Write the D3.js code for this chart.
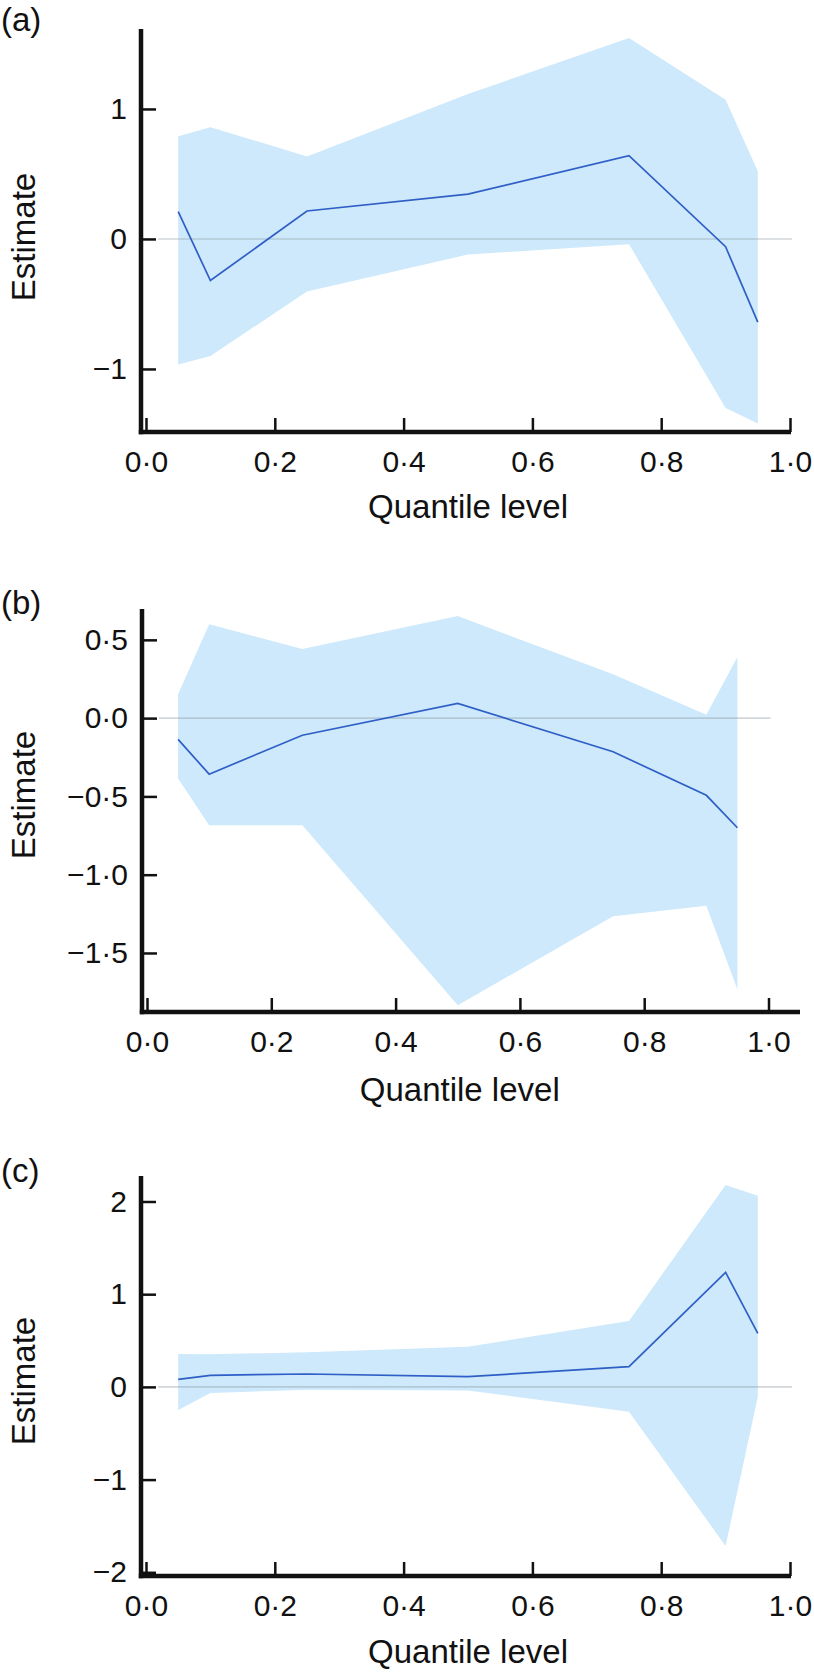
<!DOCTYPE html>
<html>
<head>
<meta charset="utf-8">
<script src="https://cdn.jsdelivr.net/npm/d3@7"></script>
<style>
  html, body { margin: 0; padding: 0; background: #fff; }
  svg { display: block; }
  text { font-family: "Liberation Sans", Arial, Helvetica, sans-serif; fill: #111; }
</style>
</head>
<body>
<svg id="chart" width="814" height="1675"></svg>
<script>
// ---- data ----
const quantiles = [0.05, 0.1, 0.25, 0.5, 0.75, 0.9, 0.95];
const xTicks = [0, 0.2, 0.4, 0.6, 0.8, 1.0];
const panelLabels = ["(a)", "(b)", "(c)"];

const estA   = [0.21, -0.32, 0.215, 0.345, 0.64, -0.06, -0.64];
const upperA = [0.79, 0.86, 0.635, 1.115, 1.545, 1.07, 0.52];
const lowerA = [-0.965, -0.90, -0.405, -0.12, -0.04, -1.30, -1.42];
const yTicksA = [-1, 0, 1];

const estB   = [-0.136, -0.358, -0.109, 0.094, -0.215, -0.493, -0.70];
const upperB = [0.153, 0.599, 0.441, 0.652, 0.28, 0.022, 0.39];
const lowerB = [-0.385, -0.684, -0.684, -1.834, -1.265, -1.199, -1.734];
const yTicksB = [-1.5, -1.0, -0.5, 0, 0.5];

const estC   = [0.082, 0.125, 0.139, 0.11, 0.218, 1.236, 0.578];
const upperC = [0.355, 0.352, 0.373, 0.434, 0.71, 2.178, 2.063];
const lowerC = [-0.249, -0.065, -0.03, -0.04, -0.267, -1.716, -0.105];
const yTicksC = [-2, -1, 0, 1, 2];

const yDomains = [[-1.485, 1.615], [-1.877, 0.697], [-2.04, 2.275]];
const yDecimals = [0, 1, 0];

// ---- layout ----
const panels = [
  {est: estA, up: upperA, lo: lowerA, yt: yTicksA, xr: [146, 790], yr: [432, 29], xEnd: 791, letterY: 31, titleCy: 237, titleDy: 86},
  {est: estB, up: upperB, lo: lowerB, yt: yTicksB, xr: [147, 768.5], yr: [1012, 609], xEnd: 800, letterY: 614, titleCy: 795, titleDy: 89},
  {est: estC, up: upperC, lo: lowerC, yt: yTicksC, xr: [146, 790], yr: [1576, 1176], xEnd: 791, letterY: 1182, titleCy: 1381, titleDy: 87}
];

const svg = d3.select("#chart");
const fmtDot = (v, dec) => {
  const s = Math.abs(v).toFixed(dec).replace(".", "\u00B7");
  return (v < 0 ? "\u2212" : "") + s;
};

panels.forEach((p, i) => {
  const x = d3.scaleLinear().domain([0, 1]).range(p.xr);
  const y = d3.scaleLinear().domain(yDomains[i]).range(p.yr);
  const g = svg.append("g");
  const rows = quantiles.map((q, k) => ({q, e: p.est[k], u: p.up[k], l: p.lo[k]}));

  // band
  g.append("path")
    .datum(rows)
    .attr("d", d3.area().x(d => x(d.q)).y0(d => y(d.l)).y1(d => y(d.u)))
    .attr("fill", "#cde9fb");

  // zero line
  g.append("line")
    .attr("x1", p.xr[0] + 12).attr("x2", x(1) + 2)
    .attr("y1", y(0)).attr("y2", y(0))
    .attr("stroke", "rgba(140,150,155,0.38)")
    .attr("stroke-width", 1.6);

  // estimate line
  g.append("path")
    .datum(rows)
    .attr("d", d3.line().x(d => x(d.q)).y(d => y(d.e)))
    .attr("fill", "none")
    .attr("stroke", "#2f5fc6")
    .attr("stroke-width", 1.7)
    .attr("stroke-linejoin", "miter");

  // y axis
  const yAxis = d3.axisLeft(y).tickValues(p.yt)
    .tickFormat(v => fmtDot(v, yDecimals[i]))
    .tickSizeInner(-15).tickSizeOuter(0).tickPadding(14);
  const ga = g.append("g").attr("transform", `translate(${p.xr[0] - 5},0)`).call(yAxis);
  ga.select(".domain").remove();
  ga.selectAll(".tick line").attr("stroke", "#111").attr("stroke-width", 2.5);
  ga.selectAll(".tick text").attr("font-size", 30).attr("fill", "#111")
    .attr("font-family", "Liberation Sans, Arial, sans-serif");

  // x axis
  const xAxis = d3.axisBottom(x).tickValues(xTicks)
    .tickFormat(v => fmtDot(v, 1))
    .tickSizeInner(-14).tickSizeOuter(0).tickPadding(19);
  const gx = g.append("g").attr("transform", `translate(0,${p.yr[0]})`).call(xAxis);
  gx.select(".domain").remove();
  gx.selectAll(".tick line").attr("stroke", "#111").attr("stroke-width", 2.5);
  gx.selectAll(".tick text").attr("font-size", 30).attr("fill", "#111")
    .attr("font-family", "Liberation Sans, Arial, sans-serif");

  // axis lines
  g.append("line")
    .attr("x1", p.xr[0] - 5).attr("x2", p.xr[0] - 5)
    .attr("y1", p.yr[1]).attr("y2", p.yr[0] + 2.2)
    .attr("stroke", "#111").attr("stroke-width", 4.5);
  g.append("line")
    .attr("x1", p.xr[0] - 7.2).attr("x2", p.xEnd)
    .attr("y1", p.yr[0]).attr("y2", p.yr[0])
    .attr("stroke", "#111").attr("stroke-width", 4.5);

  // titles
  g.append("text")
    .attr("x", (p.xr[0] + p.xr[1]) / 2 + (i === 1 ? 2 : 0))
    .attr("y", p.yr[0] + p.titleDy)
    .attr("text-anchor", "middle")
    .attr("font-size", 33)
    .text("Quantile level");
  g.append("text")
    .attr("transform", `translate(35,${p.titleCy}) rotate(-90)`)
    .attr("text-anchor", "middle")
    .attr("font-size", 33)
    .text("Estimate");
  g.append("text")
    .attr("x", 1).attr("y", p.letterY)
    .attr("font-size", 33)
    .text(panelLabels[i]);
});
</script>
</body>
</html>
